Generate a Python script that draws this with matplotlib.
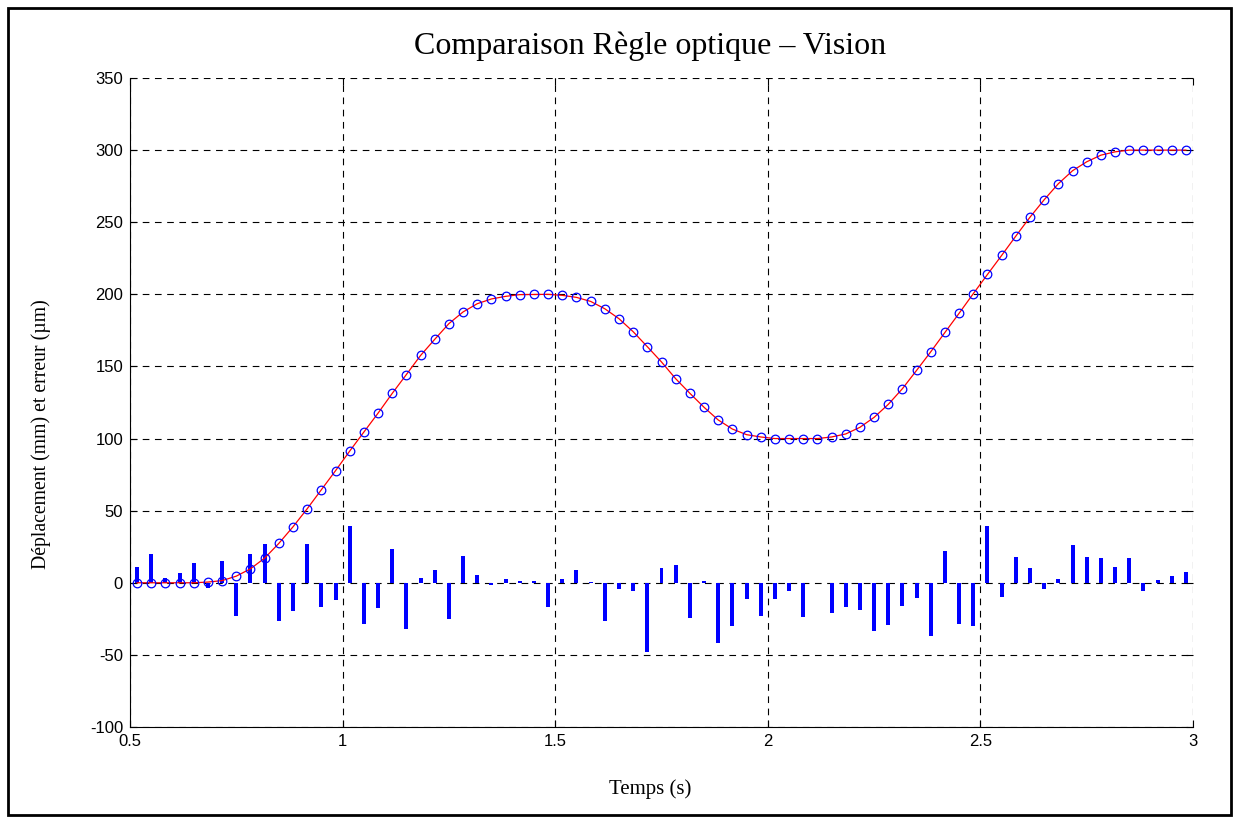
import numpy as np
import matplotlib
matplotlib.use("Agg")
import matplotlib.pyplot as plt
from matplotlib.patches import Rectangle

plt.rcParams["axes.unicode_minus"] = False

# Sample times: 30 Hz acquisition, centred on each frame
frame_rate = 30.0
n_samples = 75
t_start = 0.5
time_s = t_start + (np.arange(n_samples) + 0.5) / frame_rate

# Displacement measured by vision (mm)
displacement_mm = [
    0, 0, 0, 0, 0, 0.5, 1.5, 4.6, 9.7, 17.1,
    27.3, 38.8, 51.3, 64.5, 77.7, 91.3, 104.5, 117.6, 131.3, 144.4,
    157.6, 168.8, 179.7, 187.8, 193.5, 196.8, 198.6, 199.8, 199.9, 200.0,
    199.3, 197.9, 195.1, 190.0, 183.1, 174.1, 163.7, 153.1, 141.5, 131.4,
    121.7, 112.9, 106.6, 102.7, 101.1, 100.0, 100.0, 100.0, 100.0, 101.1,
    103.2, 107.8, 114.7, 123.7, 134.6, 147.3, 160.2, 173.6, 186.9, 200.5,
    213.8, 227.0, 240.4, 253.5, 265.6, 276.7, 285.7, 291.9, 296.5, 298.8,
    300.0, 300.0, 300.0, 300.0, 300.0,
]

# Error between optical scale and vision (µm)
error_um = [
    11.1, 19.9, 3.5, 7.0, 13.6, -3.9, 15.3, -23.0, 20.3, 26.8,
    -26.6, -19.6, 27.0, -16.6, -11.8, 39.3, -28.4, -17.6, 23.1, -32.2,
    3.0, 8.8, -25.4, 18.5, 5.3, -1.8, 2.5, 1.0, 1.0, -16.9,
    2.5, 8.8, 0.5, -26.8, -4.6, -5.8, -48.0, 9.9, 12.2, -24.5,
    1.0, -41.6, -30.0, -11.0, -23.1, -11.5, -5.5, -23.8, -0.5, -20.8,
    -16.6, -18.7, -33.7, -29.6, -15.9, -10.6, -36.7, 21.9, -28.4, -30.0,
    39.7, -9.7, 17.6, 9.9, -4.6, 2.5, 25.9, 17.8, 16.9, 10.9,
    17.3, -5.5, 1.8, 4.4, 7.2,
]

x_ticks = [0.5, 1, 1.5, 2, 2.5, 3]
x_tick_labels = ["0.5", "1", "1.5", "2", "2.5", "3"]
y_ticks = [-100, -50, 0, 50, 100, 150, 200, 250, 300, 350]
y_tick_labels = ["-100", "-50", "0", "50", "100", "150", "200", "250", "300", "350"]

title_text = "Comparaison Règle optique – Vision"
x_label = "Temps (s)"
y_label = "Déplacement (mm) et erreur (µm)"

W, H, DPI = 1237, 822, 100
fig = plt.figure(figsize=(W / DPI, H / DPI), dpi=DPI, facecolor="white")

# Outer frame around the figure
fig.patches.append(Rectangle((8 / W, 7 / H), (1231 - 8) / W, (815 - 8) / H,
                             transform=fig.transFigure, fill=False,
                             edgecolor="black", linewidth=2, zorder=10))

left, right, top, bottom = 130, 1193, 78, 727
ax = fig.add_axes([left / W, 1 - bottom / H, (right - left) / W, (bottom - top) / H])

ax.bar(time_s, error_um, width=0.0094, color="#0000ff", edgecolor="none", zorder=3)
ax.plot(time_s, displacement_mm, color="red", linewidth=0.9, zorder=4)
ax.plot(time_s, displacement_mm, linestyle="none", marker="o", markersize=6.2,
        markerfacecolor="none", markeredgecolor="#0000ff", markeredgewidth=0.9, zorder=5)

ax.set_xlim(0.5, 3)
ax.set_ylim(-100, 350)
ax.set_xticks(x_ticks)
ax.set_xticklabels(x_tick_labels)
ax.set_yticks(y_ticks)
ax.set_yticklabels(y_tick_labels)

ax.grid(True, color="black", linestyle=(0, (6, 5)), linewidth=0.8, zorder=1)
ax.set_axisbelow(True)

for side in ("top", "right"):
    ax.spines[side].set_visible(False)
for side in ("left", "bottom"):
    ax.spines[side].set_linewidth(0.8)
    ax.spines[side].set_color("black")

ax.tick_params(direction="in", length=5, width=0.8, top=True, right=True,
               labelsize=12, pad=5)
for lbl in ax.get_xticklabels() + ax.get_yticklabels():
    lbl.set_family(["Liberation Sans", "DejaVu Sans"])

serif = ["Liberation Serif", "DejaVu Serif"]
ax.set_title(title_text, family=serif, fontsize=23, pad=17, x=0.489)
ax.set_xlabel(x_label, family=serif, fontsize=15)
ax.set_ylabel(y_label, family=serif, fontsize=14.2)
ax.xaxis.set_label_coords(0.489, -0.08)
ax.yaxis.set_label_coords(-0.074, 0.451)

fig.savefig("out.png", dpi=DPI, facecolor="white")
